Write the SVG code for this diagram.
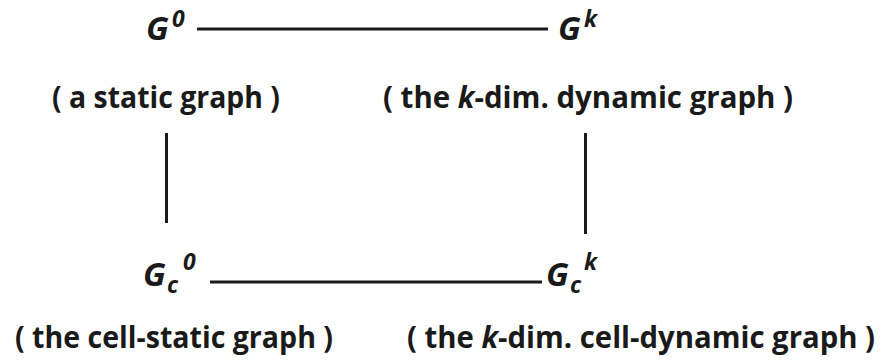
<svg xmlns="http://www.w3.org/2000/svg" width="887" height="364" viewBox="0 0 887 364">
<style>
.lbl{font-family:"Open Sans","Noto Sans","Liberation Sans",sans-serif;font-weight:700;font-size:30px;fill:#1a1a1a}
.sym{font-family:"Open Sans","Noto Sans","Liberation Sans",sans-serif;font-weight:700;font-style:italic;font-size:33px;fill:#1a1a1a}
.sup{font-family:"Open Sans","Noto Sans","Liberation Sans",sans-serif;font-weight:700;font-style:italic;font-size:23px;fill:#1a1a1a}
.it{font-style:italic}
.edge{stroke:#1a1a1a;stroke-width:3;fill:none}
</style>
<rect width="887" height="364" fill="#ffffff"/>
<g id="connectors">
<line class="edge" x1="197" y1="29" x2="548" y2="29"/>
<line class="edge" x1="210" y1="282" x2="542" y2="282"/>
<line class="edge" x1="166.5" y1="133" x2="166.5" y2="223"/>
<line class="edge" x1="585.5" y1="133" x2="585.5" y2="234"/>
</g>
<g id="node-G0">
<text class="sym" x="146" y="40">G</text>
<text class="sup" x="172" y="27">0</text>
<text class="lbl" x="52" y="108" textLength="228" lengthAdjust="spacingAndGlyphs">( a static graph )</text>
</g>
<g id="node-Gk">
<text class="sym" x="558" y="40">G</text>
<text class="sup" x="584" y="27">k</text>
<text class="lbl" x="383" y="108" textLength="410" lengthAdjust="spacingAndGlyphs">( the <tspan class="it">k</tspan>-dim. dynamic graph )</text>
</g>
<g id="node-Gc0">
<text class="sym" x="143" y="286">G</text>
<text class="sup" x="167" y="293">c</text>
<text class="sup" x="183" y="270">0</text>
<text class="lbl" x="15" y="348" textLength="318" lengthAdjust="spacingAndGlyphs">( the cell-static graph )</text>
</g>
<g id="node-Gck">
<text class="sym" x="546" y="286">G</text>
<text class="sup" x="570" y="293">c</text>
<text class="sup" x="584" y="270">k</text>
<text class="lbl" x="407" y="348" textLength="468" lengthAdjust="spacingAndGlyphs">( the <tspan class="it">k</tspan>-dim. cell-dynamic graph )</text>
</g>
</svg>
